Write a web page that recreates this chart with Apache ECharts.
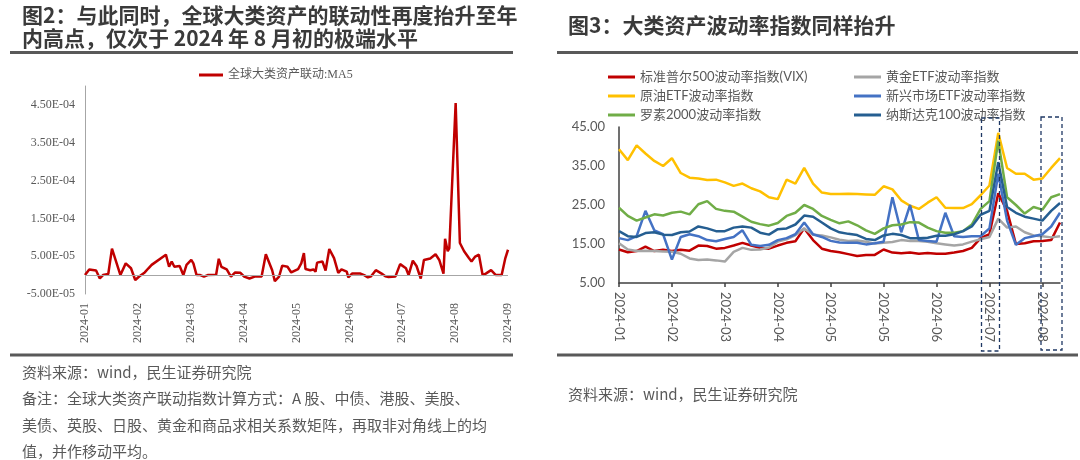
<!DOCTYPE html>
<html>
<head>
<meta charset="utf-8">
<script src="https://cdn.jsdelivr.net/npm/echarts@6/dist/echarts.min.js"></script>
<style>
  html, body { margin: 0; padding: 0; background: #fff; }
  #main { width: 1080px; height: 460px; }
</style>
</head>
<body>
<div id="main"></div>
<script>
// ---- left chart: global cross-asset co-movement (MA5) ----
// x position is counted in months from 2024-01
var corrMonths = ['2024-01', '2024-02', '2024-03', '2024-04', '2024-05', '2024-06', '2024-07', '2024-08', '2024-09'];
var corrX = [0.00, 0.08, 0.21, 0.28, 0.34, 0.44, 0.51, 0.67, 0.77, 0.87, 0.95, 1.03, 1.13, 1.20, 1.26, 1.53, 1.59, 1.64,
    1.69, 1.79, 1.86, 1.92, 2.01, 2.05, 2.11, 2.18, 2.25, 2.32, 2.48, 2.53, 2.58, 2.68, 2.76, 2.84, 2.94, 3.01, 3.11,
    3.21, 3.34, 3.42, 3.54, 3.59, 3.67, 3.73, 3.83, 3.90, 4.03, 4.09, 4.14, 4.17, 4.26, 4.32, 4.36, 4.39, 4.49, 4.55,
    4.62, 4.71, 4.79, 4.85, 4.95, 4.98, 5.05, 5.21, 5.28, 5.35, 5.41, 5.50, 5.61, 5.68, 5.74, 5.87, 5.96, 6.07, 6.12,
    6.20, 6.27, 6.35, 6.41, 6.53, 6.56, 6.63, 6.70, 6.78, 6.81, 6.86, 6.89, 7.01, 7.09, 7.17, 7.26, 7.31, 7.38, 7.45,
    7.52, 7.58, 7.68, 7.71, 7.77, 7.88, 7.95, 8.00];
var corrValue = [0, 1.5e-5, 1.2e-5, -0.9e-5, 0, 0.3e-5, 7.0e-5, 0, 3.1e-5, 1.8e-5, -1.3e-5, -0.3e-5, 0.7e-5, 1.8e-5,
    2.7e-5, 5.4e-5, 2.2e-5, 3.6e-5, 2.2e-5, 2.4e-5, 0, 2.7e-5, 4.0e-5, 3.1e-5, 0, 0, -0.4e-5, 0, 0.1e-5, 4.3e-5, 2.2e-5,
    1.5e-5, -0.4e-5, 0.7e-5, 0.6e-5, -0.4e-5, -0.9e-5, -0.4e-5, -0.4e-5, 5.5e-5, 1.3e-5, -1.6e-5, -0.4e-5, 2.5e-5,
    2.2e-5, 0.7e-5, 1.6e-5, 3.1e-5, 5.8e-5, 1.6e-5, 1.3e-5, 1.5e-5, 0.9e-5, 3.3e-5, 3.6e-5, 1.2e-5, 6.9e-5, 4.5e-5,
    0.6e-5, 1.5e-5, 0.9e-5, -0.6e-5, 0.4e-5, 0.4e-5, 0, -0.6e-5, -0.3e-5, 1.3e-5, 0.4e-5, -0.3e-5, -0.5e-5, -0.4e-5,
    2.9e-5, 1.8e-5, 0, 3.8e-5, 2.4e-5, -0.9e-5, 4.0e-5, 4.4e-5, 4.0e-5, 5.5e-5, 4.0e-5, 0.4e-5, 9.6e-5, 6.3e-5, 7.1e-5,
    45.5e-5, 8.5e-5, 6.3e-5, 4.5e-5, 3.6e-5, 4.9e-5, 5.4e-5, 0, 0.4e-5, 1.3e-5, 1.5e-5, 0, 0, 4.5e-5, 6.7e-5];

// ---- right chart: volatility indices ----
// one sample per slot, a tick label every 6 slots
var volTickLabels = ['2024-01', '2024-02', '2024-03', '2024-04', '2024-05', '2024-05', '2024-06', '2024-07', '2024-08'];
var volNames = ['标准普尔500波动率指数(VIX)', '黄金ETF波动率指数', '原油ETF波动率指数',
    '新兴市场ETF波动率指数', '罗素2000波动率指数', '纳斯达克100波动率指数'];
var vix = [13.6, 12.9, 13.2, 14.3, 13.2, 13.5, 13.2, 13.5, 13.3, 14.6, 14.5, 13.8, 14.0, 14.6, 15.3, 14.6, 14.0, 13.8,
    14.6, 15.3, 15.7, 19.0, 16.0, 13.8, 13.2, 12.9, 12.4, 11.9, 12.2, 12.2, 13.6, 12.8, 12.6, 12.8, 12.5, 12.7, 12.5,
    12.5, 12.8, 13.2, 14.0, 16.5, 17.5, 28.0, 23.5, 15.0, 15.2, 15.7, 15.8, 16.0, 20.5];
var goldVol = [15.2, 13.6, 13.2, 13.3, 13.2, 13.1, 13.0, 12.5, 11.3, 10.9, 11.0, 10.8, 10.5, 13.0, 14.0, 13.5, 13.6,
    14.1, 15.6, 16.2, 17.3, 19.0, 17.4, 17.2, 16.7, 16.1, 15.8, 15.9, 15.6, 15.1, 15.3, 15.5, 16.0, 15.8, 15.8, 15.6,
    15.2, 14.9, 14.6, 14.9, 15.6, 16.2, 16.8, 21.5, 19.2, 19.5, 18.0, 17.2, 17.0, 16.7, 17.0];
var oilVol = [39.3, 36.5, 40.3, 38.2, 36.3, 35.0, 37.0, 33.2, 32.0, 31.8, 31.4, 31.5, 30.8, 29.9, 30.5, 29.3, 28.5, 27.0,
    26.5, 31.5, 30.5, 34.5, 30.5, 28.2, 27.8, 27.8, 27.9, 27.8, 27.7, 27.6, 29.8, 29.0, 26.2, 24.8, 24.0, 25.6, 27.0,
    24.3, 24.2, 24.2, 25.2, 27.5, 30.0, 43.5, 34.5, 33.0, 33.0, 31.5, 31.8, 34.5, 37.0];
var emVol = [16.5, 16.0, 17.0, 23.5, 18.5, 17.5, 11.0, 16.8, 17.5, 17.0, 16.0, 15.7, 16.3, 16.8, 18.5, 14.8, 14.5, 14.8,
    16.0, 16.5, 17.5, 20.5, 17.5, 16.8, 15.8, 15.4, 15.3, 15.3, 14.9, 15.2, 15.6, 27.0, 18.0, 25.0, 16.0, 15.8, 15.6,
    23.0, 17.0, 16.8, 17.0, 17.0, 19.0, 33.0, 21.0, 14.8, 16.5, 17.0, 17.5, 19.5, 23.0];
var rutVol = [24.3, 22.2, 21.0, 21.8, 22.6, 22.3, 23.0, 23.3, 22.6, 25.2, 26.0, 24.0, 23.5, 23.3, 22.0, 20.7, 20.1, 19.7,
    20.4, 22.2, 23.0, 25.0, 24.0, 22.2, 21.2, 20.3, 20.8, 19.8, 18.5, 17.6, 19.0, 19.8, 20.0, 20.6, 20.5, 19.2, 18.3,
    17.9, 17.9, 18.3, 20.0, 24.0, 26.0, 41.5, 27.0, 25.0, 22.8, 24.5, 23.8, 27.0, 27.8];
var ndxVol = [18.3, 17.0, 16.8, 17.8, 18.0, 17.4, 17.3, 18.0, 18.2, 19.5, 19.0, 18.3, 18.3, 19.2, 19.5, 19.2, 17.9, 17.4,
    18.8, 19.0, 20.0, 22.3, 22.0, 20.5, 19.0, 18.0, 17.6, 17.3, 16.3, 16.0, 17.2, 17.6, 17.3, 16.5, 16.5, 16.6, 17.1,
    17.1, 17.5, 18.3, 19.5, 22.5, 23.5, 36.0, 24.5, 23.0, 22.0, 21.5, 21.0, 23.5, 25.5];
var volColors = ['#C00000', '#A5A5A5', '#FFC000', '#4472C4', '#70AD47', '#255E91'];

var SLOTS_PER_TICK = 6;
var volSlots = vix.map(function (v, i) {
    return i % SLOTS_PER_TICK === 0 ? volTickLabels[i / SLOTS_PER_TICK] : '';
});

var serif = '"Liberation Serif", "Noto Sans CJK SC", serif';
var sans = 'Lato, "Noto Sans CJK SC", sans-serif';
var grey = '#595959';

function sciLabel(v) {
    var parts = v.toExponential(2).split('e');
    var exp = parseInt(parts[1], 10);
    var sign = exp < 0 ? '-' : '+';
    var digits = String(Math.abs(exp));
    if (digits.length < 2) digits = '0' + digits;
    return parts[0] + 'E' + sign + digits;
}

var chartDom = document.getElementById('main');
var myChart = echarts.init(chartDom);
var option;

var volSeries = [vix, goldVol, oilVol, emVol, rutVol, ndxVol].map(function (arr, k) {
    return {
        name: volNames[k],
        type: 'line',
        xAxisIndex: 1,
        yAxisIndex: 1,
        data: arr,
        showSymbol: false,
        lineStyle: { width: 2.5, color: volColors[k] },
        itemStyle: { color: volColors[k] },
        z: 3 + k
    };
});

option = {
    animation: false,
    backgroundColor: '#fff',
    legend: [
        {
            data: ['全球大类资产联动:MA5'],
            left: 194, top: 64,
            icon: 'rect', itemWidth: 24, itemHeight: 3,
            textStyle: { fontFamily: serif, fontSize: 12, color: grey }
        },
        {
            data: [volNames[0], volNames[2], volNames[4]],
            orient: 'vertical', left: 603, top: 64,
            icon: 'rect', itemWidth: 27, itemHeight: 3, itemGap: 3,
            textStyle: { fontFamily: sans, fontSize: 13, color: grey, lineHeight: 16 }
        },
        {
            data: [volNames[1], volNames[3], volNames[5]],
            orient: 'vertical', left: 849, top: 64,
            icon: 'rect', itemWidth: 27, itemHeight: 3, itemGap: 3,
            textStyle: { fontFamily: sans, fontSize: 13, color: grey, lineHeight: 16 }
        }
    ],
    grid: [
        { left: 85, top: 86, width: 423, height: 208 },
        { left: 619, top: 127, width: 441, height: 156 }
    ],
    xAxis: [
        {
            gridIndex: 0, type: 'value', min: 0, max: 8, interval: 1,
            axisLine: { show: false, onZero: false },
            axisTick: { show: false },
            splitLine: { show: false },
            axisLabel: {
                rotate: 90, margin: 9, fontFamily: serif, fontSize: 12, color: grey,
                formatter: function (v) { return corrMonths[Math.round(v)]; }
            }
        },
        {
            gridIndex: 1, type: 'category', data: volSlots, boundaryGap: false,
            axisLine: { lineStyle: { color: '#404040', width: 1.5 } },
            axisTick: {
                length: 4, lineStyle: { color: '#404040', width: 1.5 },
                interval: function (i, v) { return v !== ''; }
            },
            splitLine: { show: false },
            axisLabel: { interval: 0, rotate: -90, margin: 9, fontFamily: sans, fontSize: 13, color: grey }
        }
    ],
    yAxis: [
        {
            gridIndex: 0, type: 'value', min: -5e-5, max: 5e-4, interval: 1e-4,
            axisLine: { show: true, lineStyle: { color: '#A6A6A6', width: 1 } },
            axisTick: { show: false },
            splitLine: { show: false },
            axisLabel: {
                showMaxLabel: false, margin: 10, fontFamily: serif, fontSize: 12, color: grey,
                formatter: sciLabel
            }
        },
        {
            gridIndex: 1, type: 'value', min: 5, max: 45, interval: 10,
            axisLine: { show: true, lineStyle: { color: '#404040', width: 1.5 } },
            axisTick: { show: false },
            splitLine: { show: false },
            axisLabel: {
                margin: 14, fontFamily: sans, fontSize: 13, color: grey,
                formatter: function (v) { return v.toFixed(2); }
            }
        }
    ],
    series: [
        {
            name: '全球大类资产联动:MA5',
            type: 'line',
            xAxisIndex: 0,
            yAxisIndex: 0,
            data: corrX.map(function (x, i) { return [x, corrValue[i]]; }),
            showSymbol: false,
            lineStyle: { width: 2.5, color: '#C00000' },
            itemStyle: { color: '#C00000' },
            markLine: {
                silent: true,
                symbol: ['none', 'none'],
                label: { show: false },
                lineStyle: { color: '#A6A6A6', width: 1, type: 'solid' },
                data: [{ yAxis: 0 }]
            }
        }
    ].concat(volSeries),
    graphic: [
        // titles
        {
            type: 'text', left: 22, top: 4,
            style: { text: '图2：与此同时，全球大类资产的联动性再度抬升至年\n内高点，仅次于 2024 年 8 月初的极端水平',
                fill: '#3A3A3A', font: 'bold 21px "Noto Sans CJK SC"', lineHeight: 23 }
        },
        {
            type: 'text', left: 568, top: 15,
            style: { text: '图3：大类资产波动率指数同样抬升', fill: '#3A3A3A', font: 'bold 21px "Noto Sans CJK SC"' }
        },
        // rules
        { type: 'line', shape: { x1: 10, y1: 52.5, x2: 513, y2: 52.5 }, style: { stroke: '#595959', lineWidth: 3 } },
        { type: 'line', shape: { x1: 557, y1: 52.5, x2: 1078, y2: 52.5 }, style: { stroke: '#595959', lineWidth: 3 } },
        { type: 'line', shape: { x1: 10, y1: 355, x2: 513, y2: 355 }, style: { stroke: '#595959', lineWidth: 3 } },
        { type: 'line', shape: { x1: 557, y1: 355, x2: 1078, y2: 355 }, style: { stroke: '#595959', lineWidth: 3 } },
        // dashed highlight boxes
        {
            type: 'rect', shape: { x: 981.5, y: 118, width: 18, height: 233 }, z: 20,
            style: { fill: 'none', stroke: '#1F3864', lineWidth: 1.3, lineDash: [4, 3] }
        },
        {
            type: 'rect', shape: { x: 1041, y: 117, width: 21, height: 233 }, z: 20,
            style: { fill: 'none', stroke: '#1F3864', lineWidth: 1.3, lineDash: [4, 3] }
        },
        // notes
        {
            type: 'text', left: 22, top: 359,
            style: { text: '资料来源：wind，民生证券研究院\n备注：全球大类资产联动指数计算方式：A 股、中债、港股、美股、\n美债、英股、日股、黄金和商品求相关系数矩阵，再取非对角线上的均\n值，并作移动平均。',
                fill: grey, font: '15px "Noto Sans CJK SC"', lineHeight: 26.5 }
        },
        {
            type: 'text', left: 568, top: 387,
            style: { text: '资料来源：wind，民生证券研究院', fill: grey, font: '15px "Noto Sans CJK SC"' }
        }
    ]
};

option && myChart.setOption(option);
</script>
</body>
</html>
